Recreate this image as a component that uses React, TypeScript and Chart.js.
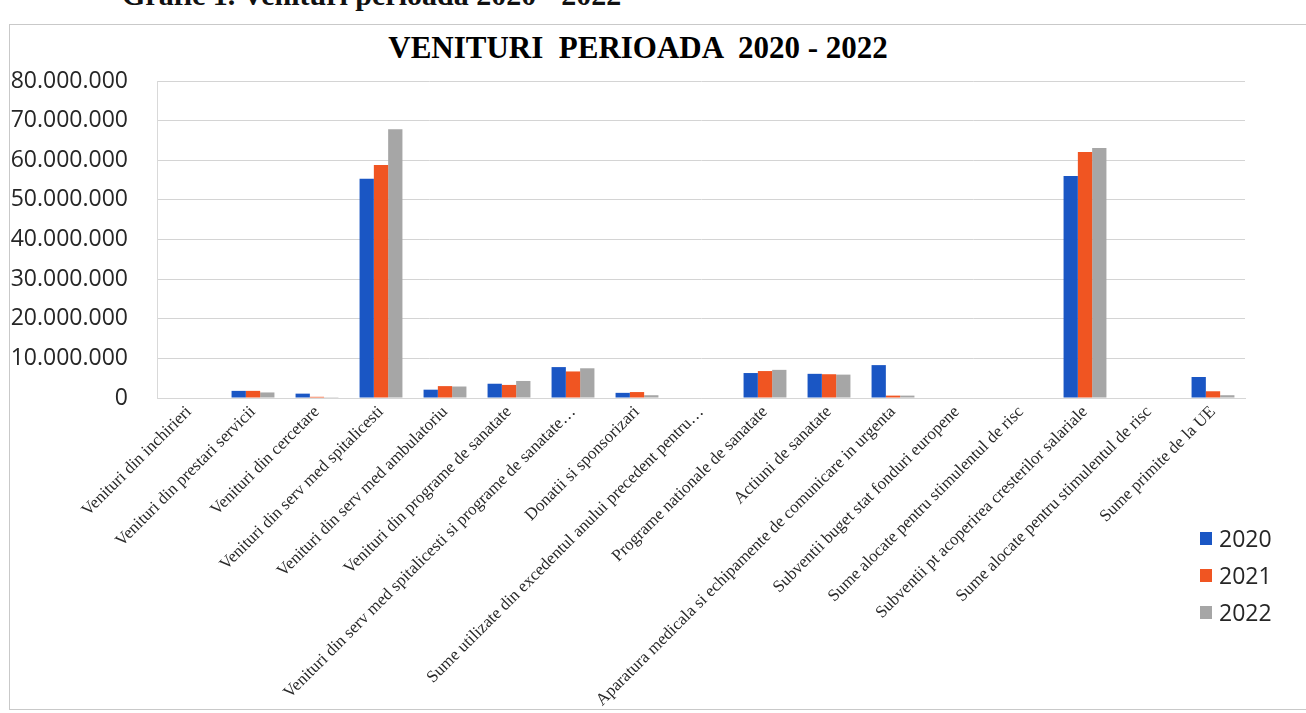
import React, { useEffect, useRef } from "react";
import { Chart, registerables } from "chart.js";

Chart.register(...registerables);

const categories = [
  "Venituri din inchirieri",
  "Venituri din prestari servicii",
  "Venituri din cercetare",
  "Venituri din serv med spitalicesti",
  "Venituri din serv med ambulatoriu",
  "Venituri din programe de sanatate",
  "Venituri din serv med spitalicesti si programe de sanatate…",
  "Donatii si sponsorizari",
  "Sume utilizate din excedentul anului precedent pentru…",
  "Programe nationale de sanatate",
  "Actiuni de sanatate",
  "Aparatura medicala si echipamente de comunicare in urgenta",
  "Subventii buget stat fonduri europene",
  "Sume alocate pentru stimulentul de risc",
  "Subventii pt acoperirea cresterilor salariale",
  "Sume alocate pentru stimulentul de risc",
  "Sume primite de la UE",
];

const seriesNames = ["2020", "2021", "2022"];

const values2020 = [
  0, 1800000, 1100000, 55300000, 2100000, 3600000, 7800000, 1300000, 0,
  6300000, 6100000, 8300000, 0, 0, 56000000, 0, 5300000,
];
const values2021 = [
  0, 1800000, 300000, 58800000, 3000000, 3300000, 6700000, 1500000, 0,
  6800000, 6000000, 600000, 0, 0, 62100000, 0, 1700000,
];
const values2022 = [
  0, 1400000, 200000, 67800000, 2900000, 4300000, 7500000, 700000, 0,
  7100000, 5900000, 600000, 0, 0, 63100000, 0, 700000,
];

const yMin = 0;
const yMax = 80000000;
const yStep = 10000000;

const seriesColors = ["#1a56c4", "#f05522", "#a6a6a6"];

const chartTitle = "VENITURI  PERIOADA  2020 - 2022";
const pageCaption = "Grafic 1. Venituri perioada 2020 - 2022";

function formatTick(v: number): string {
  if (v === 0) return "0";
  return String(Math.round(v)).replace(/\B(?=(\d{3})+(?!\d))/g, ".");
}

export default function App() {
  const canvasRef = useRef<HTMLCanvasElement | null>(null);

  useEffect(() => {
    const canvas = canvasRef.current;
    if (!canvas) return;
    const allValues = [values2020, values2021, values2022];
    const chart = new Chart(canvas, {
      type: "bar",
      data: {
        labels: categories,
        datasets: seriesNames.map((name, i) => ({
          label: name,
          data: allValues[i],
          backgroundColor: seriesColors[i],
          borderWidth: 0,
          barPercentage: 1,
          categoryPercentage: 0.67,
        })),
      },
      options: {
        responsive: true,
        maintainAspectRatio: false,
        animation: false,
        layout: { padding: { left: 0, right: 55, top: 56, bottom: 0 } },
        plugins: {
          legend: { display: false },
          tooltip: { enabled: false },
          title: { display: false },
        },
        scales: {
          x: {
            grid: { display: false, drawTicks: false },
            border: { display: true, color: "#d6d6d6" },
            ticks: {
              autoSkip: false,
              minRotation: 45,
              maxRotation: 45,
              padding: 4,
              color: "#2a2a2a",
              font: { family: "'Liberation Serif', 'Times New Roman', serif", size: 17 },
            },
            afterFit: (scale: any) => {
              scale.height = 312;
            },
          },
          y: {
            min: yMin,
            max: yMax,
            grid: { color: "#d4d4d4", drawTicks: false },
            border: { display: true, color: "#d9d9d9" },
            ticks: {
              stepSize: yStep,
              padding: 29,
              color: "#262626",
              font: { family: "'Open Sans', sans-serif", size: 23 },
              callback: (v: any) => formatTick(Number(v)),
            },
            afterFit: (scale: any) => {
              scale.width = 147;
            },
          },
        },
      },
    });
    return () => chart.destroy();
  }, []);

  const legendTops = [520, 557, 594];

  return (
    <div
      style={{
        position: "fixed",
        left: 0,
        top: 0,
        width: 1306,
        height: 713,
        overflow: "hidden",
        background: "#ffffff",
      }}
    >
      <div
        style={{
          position: "absolute",
          left: 122,
          top: -20,
          font: "bold 30px 'Liberation Serif', 'Times New Roman', serif",
          lineHeight: "30px",
          whiteSpace: "nowrap",
          color: "#111",
        }}
      >
        {pageCaption}
      </div>
      <div
        style={{
          position: "absolute",
          left: 9,
          top: 24,
          width: 1400,
          height: 686,
          border: "1px solid #c9c9c9",
          boxSizing: "border-box",
        }}
      />
      <div
        style={{
          position: "absolute",
          left: 0,
          top: 30,
          width: 1276,
          textAlign: "center",
          font: "bold 31px 'Liberation Serif', 'Times New Roman', serif",
          lineHeight: "36px",
          whiteSpace: "pre",
          color: "#000",
        }}
      >
        {chartTitle}
      </div>
      <div style={{ position: "absolute", left: 10, top: 25, width: 1290, height: 685 }}>
        <canvas ref={canvasRef} />
      </div>
      {seriesNames.map((name, i) => (
        <div
          key={name}
          style={{
            position: "absolute",
            left: 1200,
            top: legendTops[i],
            height: 37,
            display: "flex",
            alignItems: "center",
          }}
        >
          <div style={{ width: 12, height: 13, background: seriesColors[i], marginRight: 7 }} />
          <span
            style={{
              font: "23px 'Open Sans', sans-serif",
              lineHeight: "37px",
              color: "#262626",
            }}
          >
            {name}
          </span>
        </div>
      ))}
    </div>
  );
}
